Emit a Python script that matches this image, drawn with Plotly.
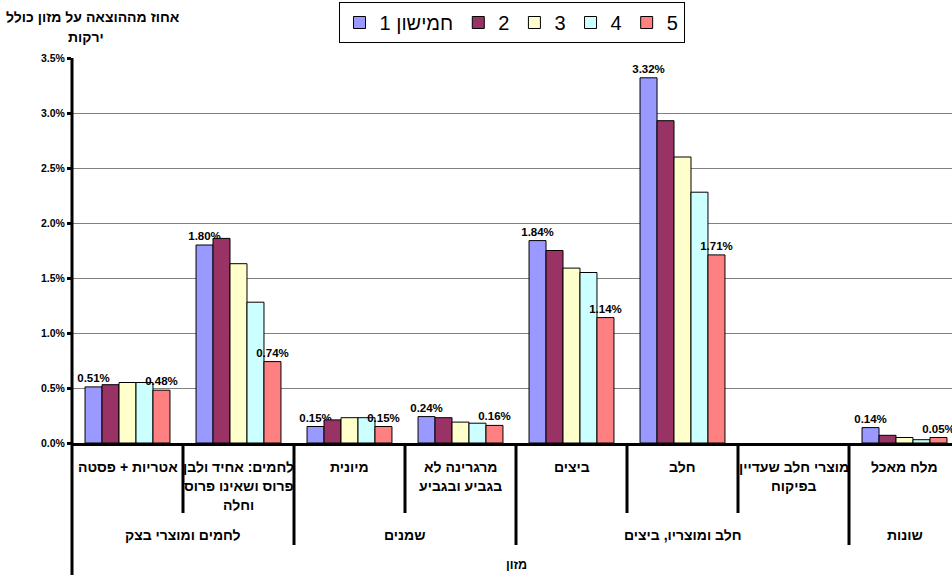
import plotly.graph_objects as go

# ---------------- data ----------------
categories = [
    "אטריות + פסטה",
    "לחמים: אחיד ולבן פרוס ושאינו פרוס וחלה",
    "מיונית",
    "מרגרינה לא בגביע ובגביע",
    "ביצים",
    "חלב",
    "מוצרי חלב שעדיין בפיקוח",
    "מלח מאכל",
]
category_lines = [
    ["אטריות + פסטה"],
    ["לחמים: אחיד ולבן", "פרוס ושאינו פרוס", "וחלה"],
    ["מיונית"],
    ["מרגרינה לא", "בגביע ובגביע"],
    ["ביצים"],
    ["חלב"],
    ["מוצרי חלב שעדיין", "בפיקוח"],
    ["מלח מאכל"],
]
groups = ["לחמים ומוצרי בצק", "שמנים", "חלב ומוצריו, ביצים", "שונות"]
group_sizes = [2, 2, 3, 1]
series_names = ["חמישון 1", "2", "3", "4", "5"]
q1 = [0.51, 1.80, 0.15, 0.24, 1.84, 3.32, None, 0.14]
q2 = [0.53, 1.86, 0.21, 0.23, 1.75, 2.93, None, 0.07]
q3 = [0.55, 1.63, 0.23, 0.19, 1.59, 2.60, None, 0.05]
q4 = [0.55, 1.28, 0.23, 0.18, 1.55, 2.28, None, 0.03]
q5 = [0.48, 0.74, 0.15, 0.16, 1.14, 1.71, None, 0.05]
labelled_series = [0, 4]
y_title_lines = ["אחוז מההוצאה על מזון כולל", "ירקות"]
x_title = "מזון"

colors = ["#9999FF", "#993366", "#FFFFCC", "#CCFFFF", "#FF8080"]
FONT = "Liberation Sans, Arial, sans-serif"

# ---------------- geometry helpers (layout only) ----------------
W, H = 952, 575
L, T, B = 72, 58, 443
plot_h = B - T


def py(px):
    return (B - px) / plot_h


def px_x(px):
    return (px - L) / (W - L)


fig = go.Figure()
for i, (name, vals) in enumerate(zip(series_names, [q1, q2, q3, q4, q5])):
    text = None
    if i in labelled_series:
        text = ["" if v is None else f"{v:.2f}%" for v in vals]
    fig.add_trace(go.Bar(
        x=categories, y=vals, name=name,
        marker=dict(color=colors[i], line=dict(color="black", width=1)),
        text=text, textposition="outside", cliponaxis=False,
        constraintext="none",
        textfont=dict(family=FONT, size=11.5, color="black", weight="bold"),
    ))

shapes = []
# y axis line extended down
shapes.append(dict(type="line", xref="paper", yref="paper", x0=0, x1=0,
                   y0=1, y1=py(576), line=dict(color="black", width=3)))
# separators below the axis
pos = 0
gb = set()
for s in group_sizes[:-1]:
    pos += s
    gb.add(pos)
for k in range(1, len(categories)):
    long = k in gb
    shapes.append(dict(type="line", xref="x", yref="paper", x0=k - 0.5, x1=k - 0.5,
                       y0=0, y1=py(545 if long else 513),
                       line=dict(color="black", width=3)))

LBL = dict(family=FONT, size=14, color="black", weight="bold")
annotations = []
for i, lines in enumerate(category_lines):
    for j, ln in enumerate(lines):
        annotations.append(dict(x=categories[i], xref="x", yref="paper",
                                y=py(466.5 + 19.3 * j), xanchor="center", yanchor="middle",
                                text=ln, showarrow=False, font=LBL))
start = 0
for g, s in zip(groups, group_sizes):
    annotations.append(dict(x=start + (s - 1) / 2, xref="x", yref="paper",
                            y=py(535), xanchor="center", yanchor="middle",
                            text=g, showarrow=False, font=LBL))
    start += s
annotations.append(dict(x=(len(categories) - 1) / 2, xref="x", yref="paper", y=py(565),
                        xanchor="center", yanchor="middle", text=x_title,
                        showarrow=False,
                        font=dict(family=FONT, size=12.5, color="black", weight="bold")))
for j, (ln, cx) in enumerate(zip(y_title_lines, [93, 86])):
    annotations.append(dict(x=px_x(cx), xref="paper", yref="paper", y=py(17 + 20 * j),
                            xanchor="center", yanchor="middle", text=ln,
                            showarrow=False, font=LBL))

cat_w = 111.0
n_vis = (W - L) / cat_w

fig.update_layout(
    width=W, height=H, autosize=False,
    margin=dict(l=L, r=0, t=T, b=H - B, pad=0),
    paper_bgcolor="white", plot_bgcolor="white",
    barmode="group", bargap=0.235, bargroupgap=0,
    font=dict(family=FONT, color="black"),
    showlegend=True,
    legend=dict(orientation="h", x=px_x(511.5), y=py(2), xanchor="center", yanchor="top",
                bordercolor="black", borderwidth=1, bgcolor="white",
                font=dict(family=FONT, size=20, color="black"),
                traceorder="normal", itemwidth=30),
    xaxis=dict(range=[-0.5, -0.5 + n_vis], showticklabels=False, ticks="",
               showgrid=False, showline=True, linecolor="black", linewidth=3,
               zeroline=False, fixedrange=True),
    yaxis=dict(range=[0, 3.5], dtick=0.5, tickformat=".1f", ticksuffix="%",
               showgrid=True, gridcolor="#808080", gridwidth=1,
               showline=False, zeroline=False,
               ticks="outside", ticklen=4, tickwidth=3, tickcolor="black",
               tickfont=dict(family=FONT, size=10.5, color="black", weight="bold"),
               fixedrange=True),
    shapes=shapes, annotations=annotations,
)

fig.write_html("out.html", config={"displayModeBar": False},
               post_script="document.body.style.margin='0px';")
